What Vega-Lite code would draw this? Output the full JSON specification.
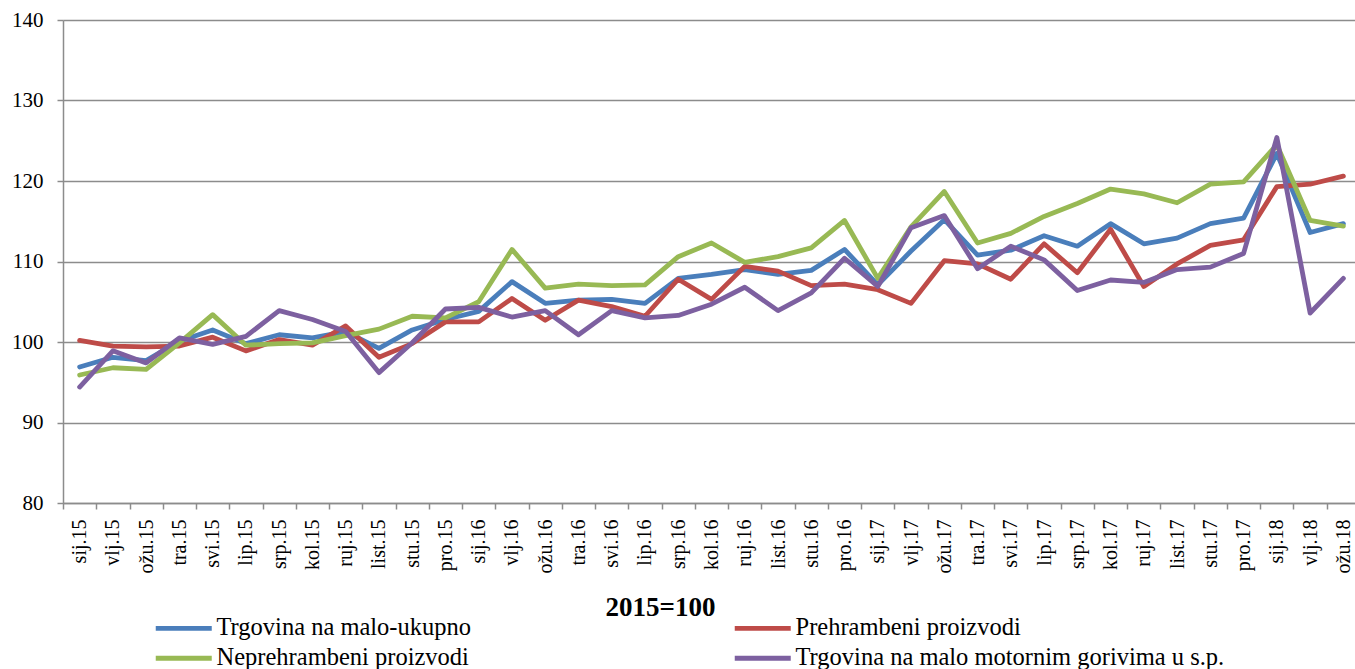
{
  "$schema": "https://vega.github.io/schema/vega-lite/v6.json",
  "autosize": "none",
  "width": 1297,
  "height": 483,
  "padding": {"left": 63, "top": 20, "right": 0, "bottom": 166},
  "background": "white",
  "config": {
    "view": {"stroke": null},
    "font": "Liberation Serif, Times New Roman, serif"
  },
  "data": {"values": [
    {"m":"sij.15","s":"Trgovina na malo-ukupno","v":96.9},{"m":"vlj.15","s":"Trgovina na malo-ukupno","v":98.1},{"m":"ožu.15","s":"Trgovina na malo-ukupno","v":97.7},{"m":"tra.15","s":"Trgovina na malo-ukupno","v":100.1},{"m":"svi.15","s":"Trgovina na malo-ukupno","v":101.5},{"m":"lip.15","s":"Trgovina na malo-ukupno","v":99.8},{"m":"srp.15","s":"Trgovina na malo-ukupno","v":100.9},{"m":"kol.15","s":"Trgovina na malo-ukupno","v":100.5},{"m":"ruj.15","s":"Trgovina na malo-ukupno","v":101.3},{"m":"list.15","s":"Trgovina na malo-ukupno","v":99.2},{"m":"stu.15","s":"Trgovina na malo-ukupno","v":101.5},{"m":"pro.15","s":"Trgovina na malo-ukupno","v":102.8},
    {"m":"sij.16","s":"Trgovina na malo-ukupno","v":103.8},{"m":"vlj.16","s":"Trgovina na malo-ukupno","v":107.5},{"m":"ožu.16","s":"Trgovina na malo-ukupno","v":104.8},{"m":"tra.16","s":"Trgovina na malo-ukupno","v":105.2},{"m":"svi.16","s":"Trgovina na malo-ukupno","v":105.3},{"m":"lip.16","s":"Trgovina na malo-ukupno","v":104.8},{"m":"srp.16","s":"Trgovina na malo-ukupno","v":107.9},{"m":"kol.16","s":"Trgovina na malo-ukupno","v":108.4},{"m":"ruj.16","s":"Trgovina na malo-ukupno","v":109.0},{"m":"list.16","s":"Trgovina na malo-ukupno","v":108.4},{"m":"stu.16","s":"Trgovina na malo-ukupno","v":108.9},{"m":"pro.16","s":"Trgovina na malo-ukupno","v":111.5},
    {"m":"sij.17","s":"Trgovina na malo-ukupno","v":107.1},{"m":"vlj.17","s":"Trgovina na malo-ukupno","v":111.3},{"m":"ožu.17","s":"Trgovina na malo-ukupno","v":115.2},{"m":"tra.17","s":"Trgovina na malo-ukupno","v":110.8},{"m":"svi.17","s":"Trgovina na malo-ukupno","v":111.4},{"m":"lip.17","s":"Trgovina na malo-ukupno","v":113.2},{"m":"srp.17","s":"Trgovina na malo-ukupno","v":111.9},{"m":"kol.17","s":"Trgovina na malo-ukupno","v":114.7},{"m":"ruj.17","s":"Trgovina na malo-ukupno","v":112.2},{"m":"list.17","s":"Trgovina na malo-ukupno","v":112.9},{"m":"stu.17","s":"Trgovina na malo-ukupno","v":114.7},{"m":"pro.17","s":"Trgovina na malo-ukupno","v":115.4},
    {"m":"sij.18","s":"Trgovina na malo-ukupno","v":123.4},{"m":"vlj.18","s":"Trgovina na malo-ukupno","v":113.6},{"m":"ožu.18","s":"Trgovina na malo-ukupno","v":114.7},

    {"m":"sij.15","s":"Prehrambeni proizvodi","v":100.2},{"m":"vlj.15","s":"Prehrambeni proizvodi","v":99.5},{"m":"ožu.15","s":"Prehrambeni proizvodi","v":99.4},{"m":"tra.15","s":"Prehrambeni proizvodi","v":99.5},{"m":"svi.15","s":"Prehrambeni proizvodi","v":100.6},{"m":"lip.15","s":"Prehrambeni proizvodi","v":98.9},{"m":"srp.15","s":"Prehrambeni proizvodi","v":100.3},{"m":"kol.15","s":"Prehrambeni proizvodi","v":99.6},{"m":"ruj.15","s":"Prehrambeni proizvodi","v":102.0},{"m":"list.15","s":"Prehrambeni proizvodi","v":98.1},{"m":"stu.15","s":"Prehrambeni proizvodi","v":99.8},{"m":"pro.15","s":"Prehrambeni proizvodi","v":102.5},
    {"m":"sij.16","s":"Prehrambeni proizvodi","v":102.5},{"m":"vlj.16","s":"Prehrambeni proizvodi","v":105.4},{"m":"ožu.16","s":"Prehrambeni proizvodi","v":102.7},{"m":"tra.16","s":"Prehrambeni proizvodi","v":105.2},{"m":"svi.16","s":"Prehrambeni proizvodi","v":104.4},{"m":"lip.16","s":"Prehrambeni proizvodi","v":103.2},{"m":"srp.16","s":"Prehrambeni proizvodi","v":107.8},{"m":"kol.16","s":"Prehrambeni proizvodi","v":105.3},{"m":"ruj.16","s":"Prehrambeni proizvodi","v":109.4},{"m":"list.16","s":"Prehrambeni proizvodi","v":108.8},{"m":"stu.16","s":"Prehrambeni proizvodi","v":107.0},{"m":"pro.16","s":"Prehrambeni proizvodi","v":107.2},
    {"m":"sij.17","s":"Prehrambeni proizvodi","v":106.5},{"m":"vlj.17","s":"Prehrambeni proizvodi","v":104.8},{"m":"ožu.17","s":"Prehrambeni proizvodi","v":110.1},{"m":"tra.17","s":"Prehrambeni proizvodi","v":109.7},{"m":"svi.17","s":"Prehrambeni proizvodi","v":107.8},{"m":"lip.17","s":"Prehrambeni proizvodi","v":112.2},{"m":"srp.17","s":"Prehrambeni proizvodi","v":108.6},{"m":"kol.17","s":"Prehrambeni proizvodi","v":114.0},{"m":"ruj.17","s":"Prehrambeni proizvodi","v":106.9},{"m":"list.17","s":"Prehrambeni proizvodi","v":109.7},{"m":"stu.17","s":"Prehrambeni proizvodi","v":112.0},{"m":"pro.17","s":"Prehrambeni proizvodi","v":112.7},
    {"m":"sij.18","s":"Prehrambeni proizvodi","v":119.3},{"m":"vlj.18","s":"Prehrambeni proizvodi","v":119.6},{"m":"ožu.18","s":"Prehrambeni proizvodi","v":120.6},

    {"m":"sij.15","s":"Neprehrambeni proizvodi","v":95.9},{"m":"vlj.15","s":"Neprehrambeni proizvodi","v":96.8},{"m":"ožu.15","s":"Neprehrambeni proizvodi","v":96.6},{"m":"tra.15","s":"Neprehrambeni proizvodi","v":99.9},{"m":"svi.15","s":"Neprehrambeni proizvodi","v":103.4},{"m":"lip.15","s":"Neprehrambeni proizvodi","v":99.6},{"m":"srp.15","s":"Neprehrambeni proizvodi","v":99.8},{"m":"kol.15","s":"Neprehrambeni proizvodi","v":99.9},{"m":"ruj.15","s":"Neprehrambeni proizvodi","v":100.8},{"m":"list.15","s":"Neprehrambeni proizvodi","v":101.6},{"m":"stu.15","s":"Neprehrambeni proizvodi","v":103.2},{"m":"pro.15","s":"Neprehrambeni proizvodi","v":103.0},
    {"m":"sij.16","s":"Neprehrambeni proizvodi","v":105.0},{"m":"vlj.16","s":"Neprehrambeni proizvodi","v":111.5},{"m":"ožu.16","s":"Neprehrambeni proizvodi","v":106.7},{"m":"tra.16","s":"Neprehrambeni proizvodi","v":107.2},{"m":"svi.16","s":"Neprehrambeni proizvodi","v":107.0},{"m":"lip.16","s":"Neprehrambeni proizvodi","v":107.1},{"m":"srp.16","s":"Neprehrambeni proizvodi","v":110.6},{"m":"kol.16","s":"Neprehrambeni proizvodi","v":112.3},{"m":"ruj.16","s":"Neprehrambeni proizvodi","v":109.9},{"m":"list.16","s":"Neprehrambeni proizvodi","v":110.6},{"m":"stu.16","s":"Neprehrambeni proizvodi","v":111.7},{"m":"pro.16","s":"Neprehrambeni proizvodi","v":115.1},
    {"m":"sij.17","s":"Neprehrambeni proizvodi","v":107.9},{"m":"vlj.17","s":"Neprehrambeni proizvodi","v":114.3},{"m":"ožu.17","s":"Neprehrambeni proizvodi","v":118.7},{"m":"tra.17","s":"Neprehrambeni proizvodi","v":112.3},{"m":"svi.17","s":"Neprehrambeni proizvodi","v":113.5},{"m":"lip.17","s":"Neprehrambeni proizvodi","v":115.6},{"m":"srp.17","s":"Neprehrambeni proizvodi","v":117.2},{"m":"kol.17","s":"Neprehrambeni proizvodi","v":119.0},{"m":"ruj.17","s":"Neprehrambeni proizvodi","v":118.4},{"m":"list.17","s":"Neprehrambeni proizvodi","v":117.3},{"m":"stu.17","s":"Neprehrambeni proizvodi","v":119.6},{"m":"pro.17","s":"Neprehrambeni proizvodi","v":119.9},
    {"m":"sij.18","s":"Neprehrambeni proizvodi","v":124.5},{"m":"vlj.18","s":"Neprehrambeni proizvodi","v":115.1},{"m":"ožu.18","s":"Neprehrambeni proizvodi","v":114.4},

    {"m":"sij.15","s":"Trgovina na malo motornim gorivima u s.p.","v":94.4},{"m":"vlj.15","s":"Trgovina na malo motornim gorivima u s.p.","v":98.9},{"m":"ožu.15","s":"Trgovina na malo motornim gorivima u s.p.","v":97.4},{"m":"tra.15","s":"Trgovina na malo motornim gorivima u s.p.","v":100.5},{"m":"svi.15","s":"Trgovina na malo motornim gorivima u s.p.","v":99.7},{"m":"lip.15","s":"Trgovina na malo motornim gorivima u s.p.","v":100.7},{"m":"srp.15","s":"Trgovina na malo motornim gorivima u s.p.","v":103.9},{"m":"kol.15","s":"Trgovina na malo motornim gorivima u s.p.","v":102.8},{"m":"ruj.15","s":"Trgovina na malo motornim gorivima u s.p.","v":101.3},{"m":"list.15","s":"Trgovina na malo motornim gorivima u s.p.","v":96.2},{"m":"stu.15","s":"Trgovina na malo motornim gorivima u s.p.","v":99.9},{"m":"pro.15","s":"Trgovina na malo motornim gorivima u s.p.","v":104.1},
    {"m":"sij.16","s":"Trgovina na malo motornim gorivima u s.p.","v":104.3},{"m":"vlj.16","s":"Trgovina na malo motornim gorivima u s.p.","v":103.1},{"m":"ožu.16","s":"Trgovina na malo motornim gorivima u s.p.","v":103.9},{"m":"tra.16","s":"Trgovina na malo motornim gorivima u s.p.","v":100.9},{"m":"svi.16","s":"Trgovina na malo motornim gorivima u s.p.","v":103.9},{"m":"lip.16","s":"Trgovina na malo motornim gorivima u s.p.","v":103.0},{"m":"srp.16","s":"Trgovina na malo motornim gorivima u s.p.","v":103.3},{"m":"kol.16","s":"Trgovina na malo motornim gorivima u s.p.","v":104.7},{"m":"ruj.16","s":"Trgovina na malo motornim gorivima u s.p.","v":106.8},{"m":"list.16","s":"Trgovina na malo motornim gorivima u s.p.","v":103.9},{"m":"stu.16","s":"Trgovina na malo motornim gorivima u s.p.","v":106.1},{"m":"pro.16","s":"Trgovina na malo motornim gorivima u s.p.","v":110.4},
    {"m":"sij.17","s":"Trgovina na malo motornim gorivima u s.p.","v":106.9},{"m":"vlj.17","s":"Trgovina na malo motornim gorivima u s.p.","v":114.2},{"m":"ožu.17","s":"Trgovina na malo motornim gorivima u s.p.","v":115.7},{"m":"tra.17","s":"Trgovina na malo motornim gorivima u s.p.","v":109.1},{"m":"svi.17","s":"Trgovina na malo motornim gorivima u s.p.","v":111.9},{"m":"lip.17","s":"Trgovina na malo motornim gorivima u s.p.","v":110.2},{"m":"srp.17","s":"Trgovina na malo motornim gorivima u s.p.","v":106.4},{"m":"kol.17","s":"Trgovina na malo motornim gorivima u s.p.","v":107.7},{"m":"ruj.17","s":"Trgovina na malo motornim gorivima u s.p.","v":107.4},{"m":"list.17","s":"Trgovina na malo motornim gorivima u s.p.","v":109.0},{"m":"stu.17","s":"Trgovina na malo motornim gorivima u s.p.","v":109.3},{"m":"pro.17","s":"Trgovina na malo motornim gorivima u s.p.","v":111.0},
    {"m":"sij.18","s":"Trgovina na malo motornim gorivima u s.p.","v":125.4},{"m":"vlj.18","s":"Trgovina na malo motornim gorivima u s.p.","v":103.6},{"m":"ožu.18","s":"Trgovina na malo motornim gorivima u s.p.","v":107.9}
  ]},
  "mark": {"type": "line", "strokeWidth": 4.8, "strokeJoin": "round", "strokeCap": "round"},
  "encoding": {
    "x": {
      "field": "m", "type": "nominal", "sort": null, "bandPosition": 0.5,
      "scale": {"type": "band", "paddingInner": 0, "paddingOuter": 0},
      "axis": {
        "title": "2015=100", "titleFont": "Liberation Serif, Times New Roman, serif", "titleFontSize": 27, "titleFontWeight": "bold", "titleColor": "black",
        "titleX": 597, "titleY": 104, "titleAlign": "center", "titleBaseline": "middle",
        "labelAngle": 270, "labelFont": "Liberation Serif, Times New Roman, serif", "labelFontSize": 20, "labelColor": "black", "labelPadding": 10,
        "tickBand": "extent", "tickSize": 6, "tickColor": "#8c8c8c", "tickWidth": 1.5,
        "domainColor": "#8c8c8c", "domainWidth": 1.5, "grid": false
      }
    },
    "y": {
      "field": "v", "type": "quantitative",
      "scale": {"domain": [80, 140], "nice": false, "zero": false},
      "axis": {
        "title": null, "values": [80, 90, 100, 110, 120, 130, 140],
        "labelFont": "Liberation Serif, Times New Roman, serif", "labelFontSize": 21, "labelColor": "black", "labelPadding": 14, "tickSize": 6,
        "tickColor": "#8c8c8c", "tickWidth": 1.5, "domainColor": "#8c8c8c", "domainWidth": 1.5,
        "grid": true, "gridColor": "#8c8c8c", "gridWidth": 1.5
      }
    },
    "color": {
      "field": "s", "type": "nominal",
      "scale": {
        "domain": ["Trgovina na malo-ukupno", "Prehrambeni proizvodi", "Neprehrambeni proizvodi", "Trgovina na malo motornim gorivima u s.p."],
        "range": ["#4A7EBB", "#BE4B48", "#98B954", "#7D60A0"]
      },
      "legend": {
        "title": null, "orient": "none", "legendX": 80.5, "legendY": 596,
        "direction": "horizontal", "columns": 2, "columnPadding": 251, "rowPadding": 5,
        "padding": 0, "symbolType": "M0,0H16", "symbolSize": 49, "symbolStrokeWidth": 4.8,
        "labelFont": "Liberation Serif, Times New Roman, serif", "labelFontSize": 24.5, "labelOffset": 48.5, "labelLimit": 600, "labelColor": "black"
      }
    }
  }
}
